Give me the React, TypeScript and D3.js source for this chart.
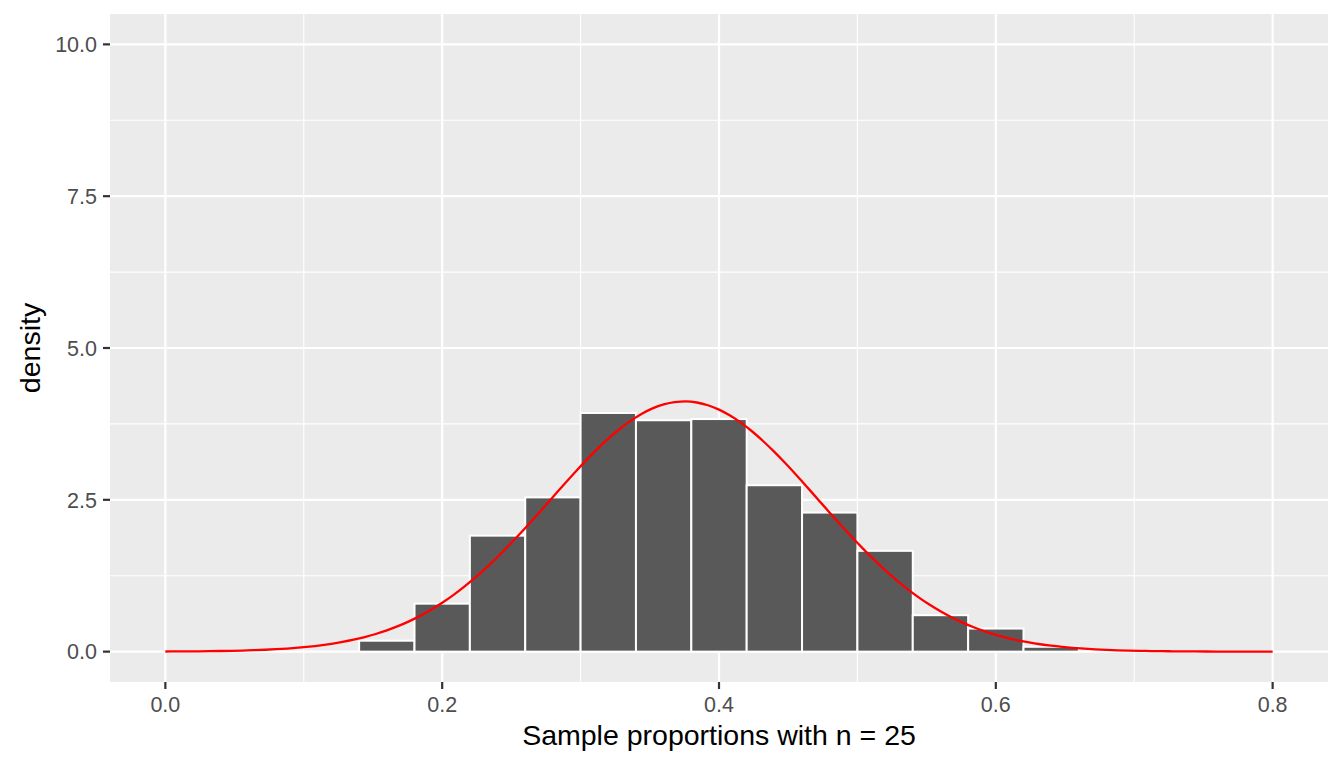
import { useEffect, useRef } from 'react';
import * as d3 from 'd3';

// histogram bins (bin width 0.04) and densities
const binStarts = [0.14, 0.18, 0.22, 0.26, 0.30, 0.34, 0.38, 0.42, 0.46, 0.50, 0.54, 0.58, 0.62];
const binDensity = [0.18, 0.79, 1.91, 2.54, 3.93, 3.81, 3.83, 2.74, 2.29, 1.66, 0.6, 0.38, 0.08];
const binWidth = 0.04;

// theoretical normal curve parameters (p-hat, n)
const pHat = 0.375;
const sampleN = 25;

const xTicks = [0, 0.2, 0.4, 0.6, 0.8];
const xMinor = [0.1, 0.3, 0.5, 0.7];
const yTicks = [0, 2.5, 5, 7.5, 10];
const yMinor = [1.25, 3.75, 6.25, 8.75];

const W = 1344;
const H = 768;

export default function App() {
  const svgRef = useRef<SVGSVGElement>(null);

  useEffect(() => {
    if (!svgRef.current) return;
    const svg = d3.select(svgRef.current);
    svg.selectAll('*').remove();

    const margin = { top: 14, right: 16, bottom: 86, left: 110 };
    const x = d3.scaleLinear().domain([-0.04, 0.84]).range([margin.left, W - margin.right]);
    const y = d3.scaleLinear().domain([-0.5, 10.5]).range([H - margin.bottom, margin.top]);

    svg.append('rect').attr('width', W).attr('height', H).attr('fill', '#fff');

    svg.append('rect')
      .attr('x', margin.left)
      .attr('y', margin.top)
      .attr('width', W - margin.left - margin.right)
      .attr('height', H - margin.top - margin.bottom)
      .attr('fill', '#EBEBEB');

    const grid = svg.append('g');
    xMinor.forEach(v => {
      grid.append('line')
        .attr('x1', x(v)).attr('x2', x(v))
        .attr('y1', margin.top).attr('y2', H - margin.bottom)
        .attr('stroke', '#fff').attr('stroke-width', 1.1);
    });
    yMinor.forEach(v => {
      grid.append('line')
        .attr('x1', margin.left).attr('x2', W - margin.right)
        .attr('y1', y(v)).attr('y2', y(v))
        .attr('stroke', '#fff').attr('stroke-width', 1.1);
    });
    xTicks.forEach(v => {
      grid.append('line')
        .attr('x1', x(v)).attr('x2', x(v))
        .attr('y1', margin.top).attr('y2', H - margin.bottom)
        .attr('stroke', '#fff').attr('stroke-width', 2.2);
    });
    yTicks.forEach(v => {
      grid.append('line')
        .attr('x1', margin.left).attr('x2', W - margin.right)
        .attr('y1', y(v)).attr('y2', y(v))
        .attr('stroke', '#fff').attr('stroke-width', 2.2);
    });

    // bars
    svg.append('g')
      .selectAll('rect')
      .data(binStarts.map((s, i) => ({ s, d: binDensity[i] })))
      .join('rect')
      .attr('x', d => x(d.s))
      .attr('width', d => x(d.s + binWidth) - x(d.s))
      .attr('y', d => y(d.d))
      .attr('height', d => y(0) - y(d.d))
      .attr('fill', '#595959')
      .attr('stroke', '#fff')
      .attr('stroke-width', 2);

    // normal density curve
    const sd = Math.sqrt(pHat * (1 - pHat) / sampleN);
    const curvePts = d3.range(0, 101).map(i => {
      const v = (i / 100) * 0.8;
      return [v, Math.exp(-0.5 * ((v - pHat) / sd) ** 2) / (sd * Math.sqrt(2 * Math.PI))] as [number, number];
    });
    const line = d3.line<[number, number]>().x(d => x(d[0])).y(d => y(d[1])).curve(d3.curveMonotoneX);
    svg.append('path')
      .datum(curvePts)
      .attr('d', line)
      .attr('fill', 'none')
      .attr('stroke', '#FF0000')
      .attr('stroke-width', 2.3);

    const font = 'Liberation Sans, Arial, sans-serif';

    // x axis
    const xAxis = svg.append('g');
    xTicks.forEach(v => {
      xAxis.append('line')
        .attr('x1', x(v)).attr('x2', x(v))
        .attr('y1', H - margin.bottom).attr('y2', H - margin.bottom + 7)
        .attr('stroke', '#333').attr('stroke-width', 2.2);
      xAxis.append('text')
        .attr('x', x(v)).attr('y', 712)
        .attr('text-anchor', 'middle')
        .attr('fill', '#4D4D4D')
        .attr('font-family', font)
        .attr('font-size', '21.5px')
        .text(d3.format('.1f')(v));
    });

    // y axis
    const yAxis = svg.append('g');
    yTicks.forEach(v => {
      yAxis.append('line')
        .attr('x1', margin.left - 7).attr('x2', margin.left)
        .attr('y1', y(v)).attr('y2', y(v))
        .attr('stroke', '#333').attr('stroke-width', 2.2);
      yAxis.append('text')
        .attr('x', 97).attr('y', y(v))
        .attr('dy', '0.36em')
        .attr('text-anchor', 'end')
        .attr('fill', '#4D4D4D')
        .attr('font-family', font)
        .attr('font-size', '21.5px')
        .text(d3.format('.1f')(v));
    });

    svg.append('text')
      .attr('x', (margin.left + W - margin.right) / 2)
      .attr('y', 745)
      .attr('text-anchor', 'middle')
      .attr('fill', '#000')
      .attr('font-family', font)
      .attr('font-size', '28.5px')
      .text(`Sample proportions with n = ${sampleN}`);

    svg.append('text')
      .attr('transform', `translate(40,${(margin.top + H - margin.bottom) / 2}) rotate(-90)`)
      .attr('text-anchor', 'middle')
      .attr('fill', '#000')
      .attr('font-family', font)
      .attr('font-size', '28.5px')
      .text('density');
  }, []);

  return (
    <svg
      ref={svgRef}
      width={W}
      height={H}
      style={{ position: 'absolute', left: 0, top: 0, display: 'block' }}
    />
  );
}
